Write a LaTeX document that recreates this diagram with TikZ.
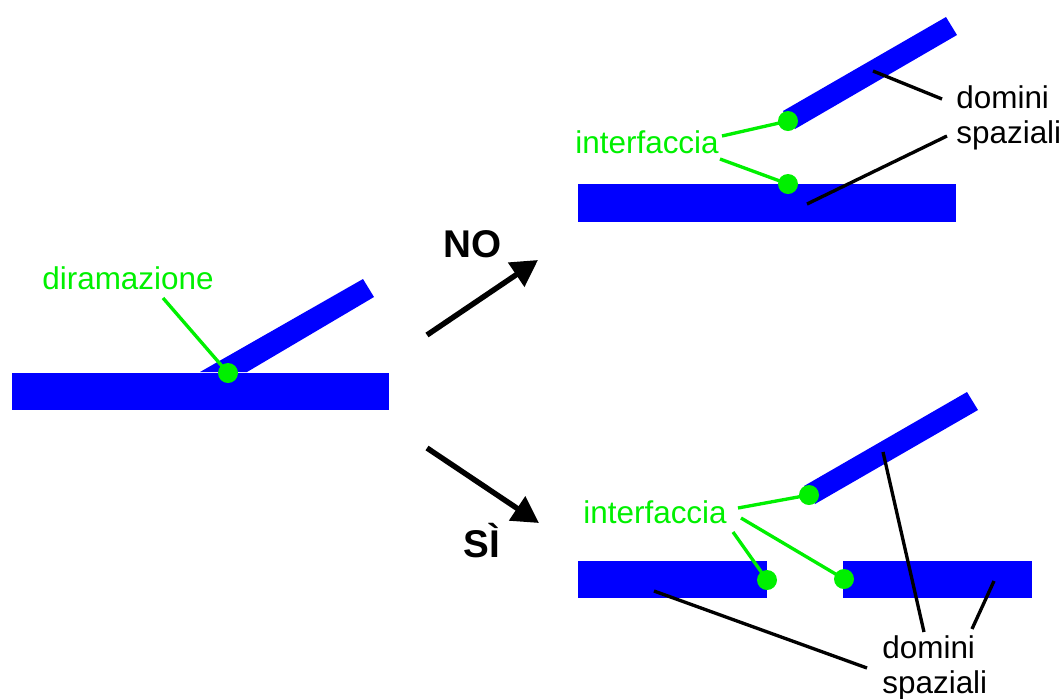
\documentclass[tikz,border=0pt]{standalone}
\usepackage{fontspec}
\setmainfont{Liberation Sans}
\usetikzlibrary{arrows.meta}
\definecolor{barblue}{RGB}{0,0,255}
\definecolor{lime}{RGB}{0,240,0}
\tikzset{
  bar/.style={fill=barblue, draw=none},
  gdot/.style={fill=lime, draw=none},
  gline/.style={draw=lime, line width=1.9pt},
  kline/.style={draw=black, line width=1.9pt},
  glabel/.style={text=lime, inner sep=0pt, anchor=base west, font=\fontsize{17.9}{20}\selectfont},
  klabel/.style={text=black, inner sep=0pt, anchor=base west, align=left, font=\fontsize{17.9}{19.8}\selectfont},
  biglabel/.style={inner sep=0pt, anchor=base west, font=\fontsize{22}{24}\selectfont\bfseries},
  bigarrow/.style={line width=3.1pt, -{Triangle[length=15pt,width=16pt]}}
}
\begin{document}
\begin{tikzpicture}[x=0.02cm, y=-0.02cm]
\useasboundingbox (0,0) rectangle (1063,698);

% ---------- left: branching ----------
\fill[bar] (200,372) -- (363,279) -- (374,297) -- (247,372) -- cycle;
\fill[bar] (12,373) rectangle (389,410);
\coordinate (dL) at (228,373);
\node[glabel] (dirama) at (42,289) {diramazione};
\draw[gline] (163,298) -- (dL);
\fill[gdot] (dL) circle (10);

% ---------- arrows ----------
\coordinate (noS) at (427,335);
\coordinate (noE) at (538,260);
\coordinate (siS) at (427,448);
\coordinate (siE) at (539,523);
\draw[bigarrow] (noS) -- (noE);
\draw[bigarrow] (siS) -- (siE);
\node[biglabel] (no) at (443,257) {NO};
\node[biglabel] (si) at (463,557) {SÌ};

% ---------- top right: NO ----------
\fill[bar] (783,111) -- (946,17) -- (957,35) -- (795,129) -- cycle;
\fill[bar] (578,184) rectangle (956,222);
\coordinate (dT1) at (788,121);
\coordinate (dT2) at (788,184);
\node[glabel] (intT) at (575,153) {interfaccia};
\draw[gline] (722,136) -- (dT1);
\draw[gline] (720,159) -- (dT2);
\fill[gdot] (dT1) circle (10);
\fill[gdot] (dT2) circle (10);
\node[klabel] (domT) at (956,143) {domini\\spaziali};
\draw[kline] (873,71) -- (942,99);
\draw[kline] (947,136) -- (807,204);

% ---------- bottom right: SI ----------
\fill[bar] (804,486) -- (967,392) -- (978,410) -- (815,504) -- cycle;
\fill[bar] (578,561) rectangle (767,598);
\fill[bar] (843,561) rectangle (1032,598);
\coordinate (dB1) at (809,495);
\coordinate (dB2) at (767,580);
\coordinate (dB3) at (844,579);
\node[glabel] (intB) at (583,523) {interfaccia};
\draw[gline] (738,508) -- (dB1);
\draw[gline] (733,532) -- (dB2);
\draw[gline] (741,518) -- (dB3);
\fill[gdot] (dB1) circle (10);
\fill[gdot] (dB2) circle (10);
\fill[gdot] (dB3) circle (10);
\node[klabel] (domB) at (882,693) {domini\\spaziali};
\draw[kline] (654,591) -- (867,668);
\draw[kline] (883,452) -- (924,632);
\draw[kline] (994,581) -- (972,629);
\end{tikzpicture}
\end{document}
